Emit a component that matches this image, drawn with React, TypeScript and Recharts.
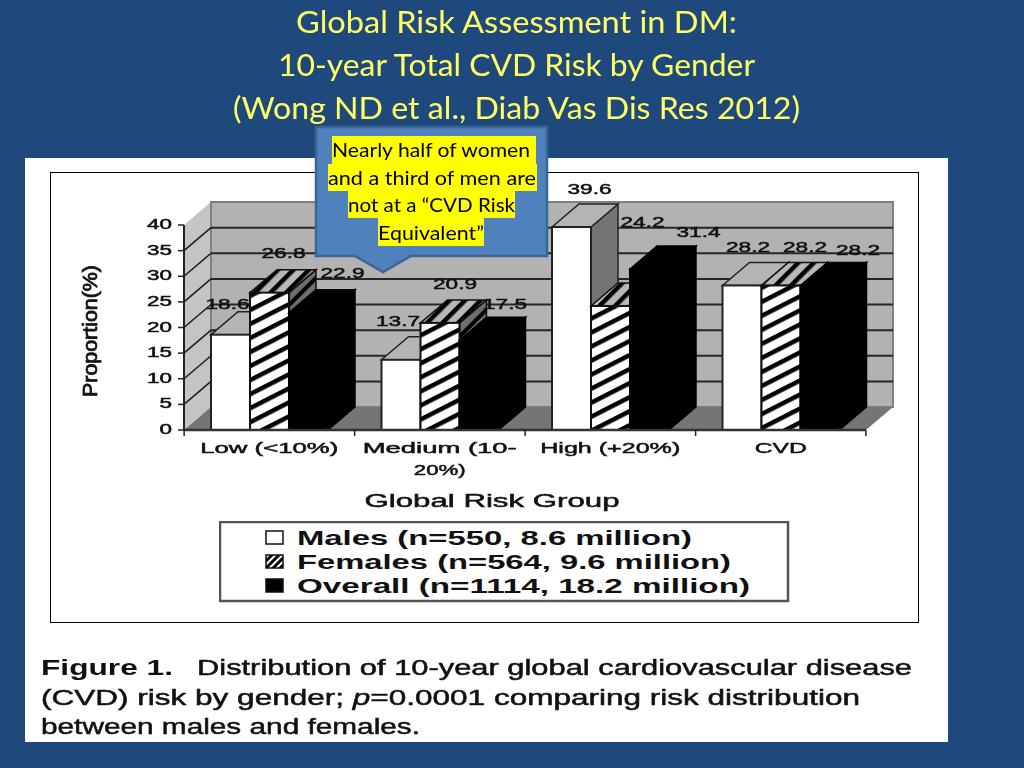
import React from "react";
import { BarChart, Bar, XAxis, YAxis, ReferenceArea, Legend, LabelList } from "recharts";

const categories = ["Low (<10%)", "Medium (10-|20%)", "High (+20%)", "CVD"];
const males = [18.6, 13.7, 39.6, 28.2];
const females = [26.8, 20.9, 24.2, 28.2];
const overall = [22.9, 17.5, 31.4, 28.2];
const yTicks = [0, 5, 10, 15, 20, 25, 30, 35, 40];
const gridTicks = [5, 10, 15, 20, 25, 30, 35];
const seriesNames = ["Males (n=550, 8.6 million)", "Females (n=564, 9.6 million)", "Overall (n=1114, 18.2 million)"];
const titleLines = ["Global Risk Assessment in DM:", "10-year Total CVD Risk by Gender", "(Wong ND et al., Diab Vas Dis Res 2012)"];
const calloutLines = ["Nearly half of women", "and a third of men are", "not at a \u201cCVD Risk", "Equivalent\u201d"];

const data = categories.map((c, i) => ({ c, m: males[i], f: females[i], o: overall[i] }));

// presentation tables (never chart values)
const DX = 27, DY = 23;
const SANS = "'Liberation Sans', Arial, sans-serif";
const NUDGE: Record<string, number[][]> = {
  m: [[-3, -8], [-3, -16], [18, -15], [6, -15]],
  f: [[14, -17], [15, -16], [32, -61], [24, -15]],
  o: [[34, -17], [26, -13], [49, -14], [38, -12]],
};
const X_TICK_W: Record<string, number> = { "Low (<10%)": 138, "Medium (10-": 154, "20%)": 52, "High (+20%)": 140, CVD: 52 };

const Fit = ({ x, y, w, size, anchor = "start", weight = 400, stroke = "#111", sw = 0.5, fill = "#111", family = SANS, children, ...rest }: any) => (
  <text x={x} y={y} textLength={w} lengthAdjust="spacingAndGlyphs" fontSize={size} textAnchor={anchor} fontWeight={weight}
    fontFamily={family} fill={fill} stroke={stroke} strokeWidth={sw} {...rest}>{children}</text>
);

const Walls = ({ x, y, width, height }: any) => {
  const b = y + height, r = x + width;
  return (
    <g>
      <polygon points={`${x},${y} ${x + DX},${y - DY} ${x + DX},${b - DY} ${x},${b}`} fill="#c4c4c4" />
      <polygon points={`${x + DX},${y - DY} ${r + DX},${y - DY} ${r + DX},${b - DY} ${x + DX},${b - DY}`} fill="#b2b2b2" stroke="#808080" strokeWidth={2} />
      <polygon points={`${x},${b} ${x + DX},${b - DY} ${r + DX},${b - DY} ${r},${b}`} fill="#757575" />
    </g>
  );
};

// each band's lower edge is one gridline, carried up the side wall and across the back wall
const GridBand = ({ x, y, width, height }: any) => {
  const b = y + height;
  return (
    <g>
      <line x1={x} y1={b} x2={x + DX} y2={b - DY} stroke="#1c1c1c" strokeWidth={1.5} />
      <line x1={x + DX} y1={b - DY} x2={x + width + DX} y2={b - DY} stroke="#262626" strokeWidth={2} />
    </g>
  );
};

const makeBar = (front: string, top: string, side: string, edge: string) => (p: any) => {
  const { x, y, width: w, height: h } = p;
  return (
    <g>
      <polygon points={`${x + w},${y} ${x + w + DX},${y - DY} ${x + w + DX},${y + h - DY} ${x + w},${y + h}`} fill={side} stroke={edge} strokeWidth={1.5} />
      <polygon points={`${x},${y} ${x + DX},${y - DY} ${x + w + DX},${y - DY} ${x + w},${y}`} fill={top} stroke={edge} strokeWidth={1.5} />
      <rect x={x} y={y} width={w} height={h} fill={front} stroke={edge} strokeWidth={2} />
    </g>
  );
};

const valueLabel = (key: string) => (p: any) => {
  const [dx, dy] = NUDGE[key][p.index];
  return (
    <Fit x={p.x + p.width / 2 + dx} y={p.y - DY + dy + 5} w={44} size={14} anchor="middle">{p.value}</Fit>
  );
};

const XTick = ({ x, y, payload }: any) => {
  const band = 681 / categories.length;
  const parts = String(payload.value).split("|");
  const isLast = payload.value === categories[categories.length - 1];
  return (
    <g>
      <line x1={x - band / 2} x2={x - band / 2} y1={430} y2={436} stroke="#222" strokeWidth={1.5} />
      {isLast && <line x1={x + band / 2} x2={x + band / 2} y1={430} y2={436} stroke="#222" strokeWidth={1.5} />}
      {parts.map((t, i) => (
        <Fit key={t} x={x} y={y + 15 + i * 22} w={X_TICK_W[t]} size={15} anchor="middle">{t}</Fit>
      ))}
    </g>
  );
};

const YTick = ({ x, y, payload }: any) => (
  <Fit x={x - 4} y={y + 4} w={String(payload.value).length * 12.5} size={14} anchor="end">{payload.value}</Fit>
);

const LEGEND_W = [395, 434, 453];
const LegendBox = ({ payload }: any) => (
  <svg width={572} height={84} style={{ display: "block" }}>
    <rect x={1} y={1} width={568} height={79} fill="#fff" stroke="#555" strokeWidth={2.5} />
    {(payload ?? []).map((e: any, i: number) => (
      <g key={e.value}>
        <rect x={47} y={10 + i * 24} width={17} height={13} fill={i === 0 ? "#fff" : i === 1 ? "url(#legendHatch)" : "#000"} stroke="#111" strokeWidth={1.5} />
        <Fit x={78} y={24 + i * 24} w={LEGEND_W[i]} size={21} weight={700} sw={0}>{e.value}</Fit>
      </g>
    ))}
  </svg>
);

export default function App() {
  return (
    <div style={{ position: "absolute", left: 0, top: 0, width: 1024, height: 768, background: "#1F497D", overflow: "hidden" }}>
      <svg width={0} height={0} style={{ position: "absolute" }}>
        <defs>
          <pattern id="hatch" width={30} height={12.5} patternUnits="userSpaceOnUse" patternTransform="rotate(-27)">
            <rect width={30} height={12.5} fill="#fff" />
            <rect width={30} height={4.5} fill="#000" />
          </pattern>
          <pattern id="hatchTop" width={11} height={11} patternUnits="userSpaceOnUse" patternTransform="rotate(-45)">
            <rect width={11} height={11} fill="#b8b8b8" />
            <rect width={11} height={4.5} fill="#000" />
          </pattern>
          <pattern id="hatchSide" width={11} height={11} patternUnits="userSpaceOnUse" patternTransform="rotate(-45)">
            <rect width={11} height={11} fill="#6e6e6e" />
            <rect width={11} height={4} fill="#000" />
          </pattern>
          <pattern id="legendHatch" width={5} height={5} patternUnits="userSpaceOnUse" patternTransform="rotate(-45)">
            <rect width={5} height={5} fill="#fff" />
            <rect width={5} height={3} fill="#000" />
          </pattern>
        </defs>
      </svg>

      <div style={{ position: "absolute", left: 25, top: 158, width: 923, height: 584, background: "#fff" }} />

      <div style={{ position: "absolute", left: 0, top: 0, width: 1024, height: 768, filter: "blur(0.6px)" }}>
        <div style={{ position: "absolute", left: 50, top: 172, width: 867, height: 449, border: "1px solid #000" }} />
        <div style={{ position: "absolute", left: 0, top: 0 }}>
          <BarChart width={1024} height={768} data={data} barSize={39} barGap={0}
            margin={{ left: 125, top: 225, right: 158, bottom: 298 }}>
            <ReferenceArea y1={0} y2={40} ifOverflow="visible" shape={<Walls />} />
            {gridTicks.map((t) => (
              <ReferenceArea key={t} y1={t} y2={t + 5} ifOverflow="visible" shape={<GridBand />} />
            ))}
            <XAxis dataKey="c" height={40} interval={0} tick={<XTick />} tickLine={false} axisLine={{ stroke: "#333", strokeWidth: 2.5 }}
              label={{ value: "Global Risk Group", content: (p: any) => (
                <Fit x={p.viewBox.x + p.viewBox.width / 2 - 33} y={507} w={255} size={18} anchor="middle">Global Risk Group</Fit>
              ) }} />
            <YAxis width={59} domain={[0, 40]} ticks={yTicks} tick={<YTick />} tickLine={{ stroke: "#222", strokeWidth: 1.5 }}
              axisLine={{ stroke: "#222", strokeWidth: 2 }}
              label={{ value: "Proportion(%)", content: () => (
                <Fit x={0} y={0} w={132} size={20} anchor="middle" sw={0.8} transform="translate(97,331) rotate(-90)">Proportion(%)</Fit>
              ) }} />
            <Legend layout="vertical" align="center" verticalAlign="middle" content={<LegendBox />} itemSorter={null}
              wrapperStyle={{ left: 219, top: 521, width: 572, height: 84 }} />
            <Bar dataKey="m" name={seriesNames[0]} isAnimationActive={false} shape={makeBar("#fff", "#b4b4b4", "#737373", "#222")}>
              <LabelList dataKey="m" content={valueLabel("m")} />
            </Bar>
            <Bar dataKey="f" name={seriesNames[1]} isAnimationActive={false} shape={makeBar("url(#hatch)", "url(#hatchTop)", "url(#hatchSide)", "#111")}>
              <LabelList dataKey="f" content={valueLabel("f")} />
            </Bar>
            <Bar dataKey="o" name={seriesNames[2]} isAnimationActive={false} shape={makeBar("#000", "#000", "#000", "#000")}>
              <LabelList dataKey="o" content={valueLabel("o")} />
            </Bar>
          </BarChart>
        </div>
        <svg width={1024} height={768} style={{ position: "absolute", left: 0, top: 0, pointerEvents: "none" }}>
          <Fit x={41} y={675} w={132} size={22} weight={700} sw={0}>Figure 1.</Fit>
          <Fit x={197} y={675} w={715} size={22}>Distribution of 10-year global cardiovascular disease</Fit>
          <Fit x={41} y={705} w={819} size={22}>(CVD) risk by gender; <tspan fontStyle="italic">p</tspan>=0.0001 comparing risk distribution</Fit>
          <Fit x={41} y={734} w={379} size={22}>between males and females.</Fit>
        </svg>
      </div>

      <svg width={1024} height={768} style={{ position: "absolute", left: 0, top: 0, pointerEvents: "none" }}>
        {titleLines.map((t, i) => (
          <Fit key={t} x={[296, 278, 233][i]} y={[33, 76, 119][i]} w={[441, 477, 567][i]} size={30} family="Lato, sans-serif"
            fill="#FFFF66" stroke="none" sw={0}>{t}</Fit>
        ))}
        <polygon points="316,127 547,127 547,256 411,256 383,272 355,256 316,256" fill="#4F81BD" stroke="#3A6694" strokeWidth={2.5} />
        {[[332, 136, 204, 28], [328, 164, 209, 27], [348, 191, 167, 27], [378, 218, 106, 28]].map(([x, y, w, h]) => (
          <rect key={y} x={x} y={y} width={w} height={h} fill="#FFFF00" />
        ))}
        {calloutLines.map((t, i) => (
          <Fit key={t} x={[332, 328, 348, 378][i]} y={[157, 185, 212, 240][i]} w={[198, 208, 167, 106][i]} size={20}
            family="Lato, sans-serif" fill="#000" stroke="none" sw={0}>{t}</Fit>
        ))}
      </svg>
    </div>
  );
}
